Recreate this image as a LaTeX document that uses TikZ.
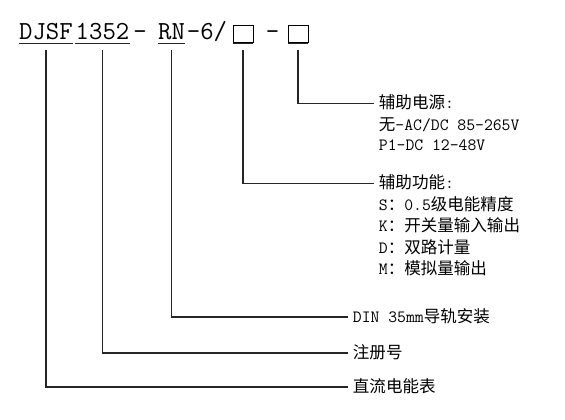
\documentclass[tikz,border=0pt]{standalone}
\usepackage{fontspec}
\newfontfamily\cjk{Noto Sans CJK SC}
\newcommand\lat[1]{{\ttfamily\fontsize{12.9}{15}\selectfont #1}}
\tikzset{
  head/.style={font=\ttfamily\fontsize{19.5}{21}\selectfont, inner sep=0pt, anchor=base},
  slot/.style={draw, line width=0.7pt, minimum width=15pt, minimum height=12.75pt, inner sep=0pt},
  lbl/.style={font=\cjk\fontsize{12.4}{15}\selectfont, anchor=west, inner sep=3.5pt, text height=10pt, text depth=2.5pt},
  lead/.style={line width=0.9pt, black!85}
}
\begin{document}
\begin{tikzpicture}[x=0.75pt, y=-0.75pt]
\useasboundingbox (0,0) rectangle (565,419);
\coordinate (ul) at (0,43.5);
\coordinate (top) at (0,50);

\node[head] (dj) at (46,39.5) {DJSF};
\node[head] (num) at (102.5,39.5) {1352};
\node[head] (d1) at (140,39.5) {–};
\node[head] (rn) at (171.5,39.5) {RN};
\node[head] (tail) at (207,39.5) {–6/};
\node[slot] (bx1) at (243,33.5) {};
\node[head] (d2) at (272.5,39.5) {–};
\node[slot] (bx2) at (298,33.5) {};

\foreach \n in {dj,num,rn,bx1,bx2}
  \draw[lead] (\n.west |- ul) -- (\n.east |- ul);

\node[lbl] (pw) at (374,103.5) {辅助电源\lat{:}};
\node[lbl] (pw1) at (374,125) {无\lat{–AC/DC 85–265V}};
\node[lbl] (pw2) at (374,145) {\lat{P1–DC 12–48V}};

\node[lbl] (fn) at (374,183.5) {辅助功能\lat{:}};
\node[lbl] (fn1) at (374,205) {\lat{S}：\lat{0.5}级电能精度};
\node[lbl] (fn2) at (374,226.5) {\lat{K}：开关量输入输出};
\node[lbl] (fn3) at (374,248) {\lat{D}：双路计量};
\node[lbl] (fn4) at (374,269.5) {\lat{M}：模拟量输出};

\node[lbl] (din) at (348,317) {\lat{DIN 35mm}导轨安装};
\node[lbl] (reg) at (348,353) {注册号};
\node[lbl] (dc) at (348,387) {直流电能表};

\draw[lead] (bx2 |- top) |- (pw.west);
\draw[lead] (bx1 |- top) |- (fn.west);
\draw[lead] (rn |- top) |- (din.west);
\draw[lead] (num |- top) |- (reg.west);
\draw[lead] (dj |- top) |- (dc.west);
\end{tikzpicture}
\end{document}
